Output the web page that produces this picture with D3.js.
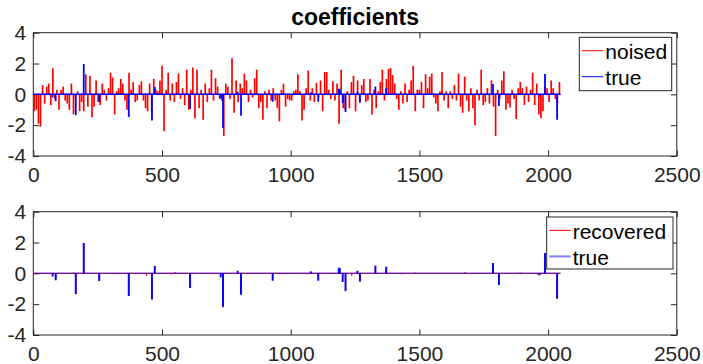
<!DOCTYPE html>
<html>
<head>
<meta charset="utf-8">
<script src="https://cdn.jsdelivr.net/npm/d3@7"></script>
<style>
  body { margin: 0; background: #fff; }
  text { font-family: "Liberation Sans", Arial, sans-serif; }
</style>
</head>
<body>
<div id="plot"></div>
<script>
// noised coefficients, read every 8th sample (index 8k+4)
const noisedStep = 8;
const noised = [
  -1.1,-1.0,-1.9,-2.1,0.6,-0.6,0.5,0.7,-0.7,1.7,-0.3,0.3,-1.0,0.3,0.5,-0.4,-0.6,-1.0,0.7,-1.3,
  -0.3,0.2,-1.1,-0.5,-1.1,1.3,-0.8,1.2,-1.5,-0.8,0.9,-0.5,-0.7,0.7,0.3,-0.4,0.4,1.4,1.1,-1.3,
  0.2,0.4,1.0,0.7,-0.4,-1.0,1.4,
  0.3,0.8,-0.5,-0.4,0.6,0.85,-0.4,-0.9,-1.1,0.7,-1.1,1.0,0.3,0.2,0.9,1.85,-2.4,0.3,1.4,-0.4,
  0.7,-0.5,0.8,1.35,-0.3,0.4,-0.7,1.6,-1.0,0.3,1.75,-1.55,1.6,-0.9,0.3,-1.65,0.7,-0.5,0.4,1.6,
  -0.4,1.05,0.5,-0.3,-0.4,-2.7,
  0.7,0.5,-0.3,2.35,-1.2,0.9,-0.5,0.7,0.4,1.35,0.9,-0.5,0.3,-0.2,1.05,1.6,-0.9,-0.5,-1.65,0.2,
  -0.9,0.3,-0.4,0.4,-0.4,-0.9,-1.75,0.3,0.7,-0.8,-0.3,-0.4,-0.4,0.2,0.3,1.3,0.2,-1.7,-1.0,0.4,
  1.55,-0.4,0.4,-0.5,0.75,-0.2,
  0.9,-1.1,1.45,1.45,0.3,-0.3,0.85,-0.4,0.7,-1.9,1.6,-0.9,-1.0,0.2,-0.9,0.8,1.2,-1.1,0.9,-0.4,
  0.6,1.0,-0.5,-0.4,1.0,-1.3,0.3,-0.9,0.2,0.8,1.6,-0.4,1.0,1.65,1.7,1.25,0.7,-0.3,-1.0,0.2,
  -0.6,0.7,-0.5,0.3,0.9,1.85,
  -1.1,0.3,0.3,0.8,-0.9,1.3,0.4,1.15,1.35,-0.2,-0.6,-1.1,0.2,1.45,-0.4,0.2,-0.9,0.2,-0.3,0.6,
  -0.4,1.35,-0.8,-1.2,1.15,-0.4,-1.1,0.4,-0.9,-2.0,0.3,-0.4,1.6,-0.7,-0.5,0.4,-0.6,0.9,-0.8,-2.7,
  0.3,-0.3,0.9,1.5,-1.0,-0.6,
  -0.85,0.3,-0.3,-1.6,0.4,0.8,0.4,-0.7,0.5,-0.5,0.3,1.4,-0.7,0.7,-1.3,-1.55,-1.1,0.5,0.4,-0.5,
  0.9,0.4,-0.3,-0.6,0.8
];

// sparse true signal
const trueIdx = [75,87,165,196,256,371,461,472,609,728,737,794,807,930,1078,1107,1187,1191,1202,1213,
                 1259,1269,1329,1371,1786,1809,1967,1988,2035];
const trueVal = [-0.2,-0.45,-1.35,1.97,-0.5,-1.47,-1.7,0.48,-0.95,-0.26,-2.19,0.17,-1.39,-0.48,0.13,-0.48,0.37,0.33,-0.56,-1.15,
                 0.17,-0.54,0.5,0.43,0.67,-0.76,-0.13,1.32,-1.65];

// recovered coefficients (non-zero entries)
const recIdx = [75,87,155,165,196,256,320,371,440,461,472,535,550,609,690,737,807,930,965,1065,
                1107,1213,1237,1269,1329,1371,1430,1483,1678,1786,1809,1891,1960,1988,2035];
const recVal = [-0.18,-0.42,0.05,-1.3,1.92,-0.45,-0.05,-1.42,-0.15,-1.65,0.45,-0.08,0.08,-0.9,-0.06,-2.12,-1.33,-0.42,-0.05,-0.06,
                -0.42,-1.1,-0.15,-0.48,0.45,0.38,-0.06,0.05,0.08,0.62,-0.7,0.06,-0.1,1.27,-1.6];

const nSamples = 2048;
const xTicks = [0, 500, 1000, 1500, 2000, 2500];
const yTicks = [-4, -2, 0, 2, 4];

const W = 703, H = 364;
const axColor = "#262626";
const svg = d3.select("#plot").append("svg").attr("width", W).attr("height", H);

const x = d3.scaleLinear().domain([0, 2500]).range([33.3, 676.8]);
const fmt = d => String(d);   // plain hyphen minus, no thousands separator

function drawAxes(top, bottom) {
  const y = d3.scaleLinear().domain([-4, 4]).range([bottom, top]);
  const g = svg.append("g");
  g.append("g").attr("transform", `translate(0,${bottom})`)
    .call(d3.axisBottom(x).tickValues(xTicks).tickFormat(fmt).tickSize(-5.5).tickSizeOuter(0).tickPadding(11));
  g.append("g").attr("transform", `translate(0,${top})`)
    .call(d3.axisTop(x).tickValues(xTicks).tickSize(-5.5).tickSizeOuter(0).tickFormat(""));
  g.append("g").attr("transform", `translate(${x.range()[0]},0)`)
    .call(d3.axisLeft(y).tickValues(yTicks).tickFormat(fmt).tickSize(-6).tickSizeOuter(0).tickPadding(7));
  g.append("g").attr("transform", `translate(${x.range()[1]},0)`)
    .call(d3.axisRight(y).tickValues(yTicks).tickSize(-6).tickSizeOuter(0).tickFormat(""));
  g.selectAll(".domain").remove();
  g.selectAll(".tick line").attr("stroke", axColor);
  g.selectAll(".tick text").attr("fill", axColor).style("font-size", "21px");
  g.append("rect")
    .attr("x", x.range()[0]).attr("y", top)
    .attr("width", x.range()[1] - x.range()[0]).attr("height", bottom - top)
    .attr("fill", "none").attr("stroke", axColor).attr("stroke-width", 1);
  return y;
}

function stems(g, idx, val, y, color, width, opacity) {
  g.selectAll(null).data(idx.map((d, i) => [d, val[i]])).enter().append("line")
    .attr("x1", d => x(d[0])).attr("x2", d => x(d[0]))
    .attr("y1", y(0)).attr("y2", d => y(d[1]))
    .attr("stroke", color).attr("stroke-width", width).attr("stroke-opacity", opacity);
}

function baseline(g, y, color, width, opacity) {
  g.append("line")
    .attr("x1", x(1)).attr("x2", x(nSamples))
    .attr("y1", y(0)).attr("y2", y(0))
    .attr("stroke", color).attr("stroke-width", width).attr("stroke-opacity", opacity);
}

function legend(x0, y0, w, h, items) {
  const g = svg.append("g");
  g.append("rect").attr("x", x0).attr("y", y0).attr("width", w).attr("height", h)
    .attr("fill", "#fff").attr("stroke", axColor).attr("stroke-width", 1);
  items.forEach((it, i) => {
    const ly = y0 + 13.4 + i * 26;
    g.append("line").attr("x1", x0 + 2.5).attr("x2", x0 + 24).attr("y1", ly).attr("y2", ly)
      .attr("stroke", it.color).attr("stroke-width", it.width);
    g.append("text").attr("x", x0 + 26).attr("y", ly + 8.5)
      .style("font-size", "21px").attr("fill", "#000").text(it.label);
  });
}

// ---- top: noised vs true
const y1 = drawAxes(32.7, 156);
const p1 = svg.append("g");
const noisedIdx = noised.map((d, k) => k * noisedStep + 4);
stems(p1, noisedIdx, noised, y1, "#ff0000", 1.7, 1);
baseline(p1, y1, "#ff0000", 1, 1);
baseline(p1, y1, "#0000ff", 1.5, 1);
stems(p1, trueIdx, trueVal, y1, "#0000ff", 1.8, 1);

svg.append("text").attr("x", (x.range()[0] + x.range()[1]) / 2).attr("y", 25)
  .attr("text-anchor", "middle").style("font-size", "23px").style("font-weight", "bold")
  .attr("fill", "#000").text("coefficients");

legend(579.3, 37.3, 92.4, 53.4, [
  { label: "noised", color: "#ff0000", width: 1 },
  { label: "true", color: "#0000ff", width: 1 }
]);

// ---- bottom: recovered vs true
const y2 = drawAxes(211.7, 335);
const p2 = svg.append("g");
baseline(p2, y2, "#ff0000", 1, 1);
stems(p2, recIdx, recVal, y2, "#ff0000", 1.2, 1);
baseline(p2, y2, "#0000ff", 1.5, 0.5);
stems(p2, trueIdx, trueVal, y2, "#0000ff", 2, 0.95);

legend(546.7, 217, 126.3, 52, [
  { label: "recovered", color: "#ff0000", width: 1 },
  { label: "true", color: "#8080ff", width: 2 }
]);
</script>
</body>
</html>
